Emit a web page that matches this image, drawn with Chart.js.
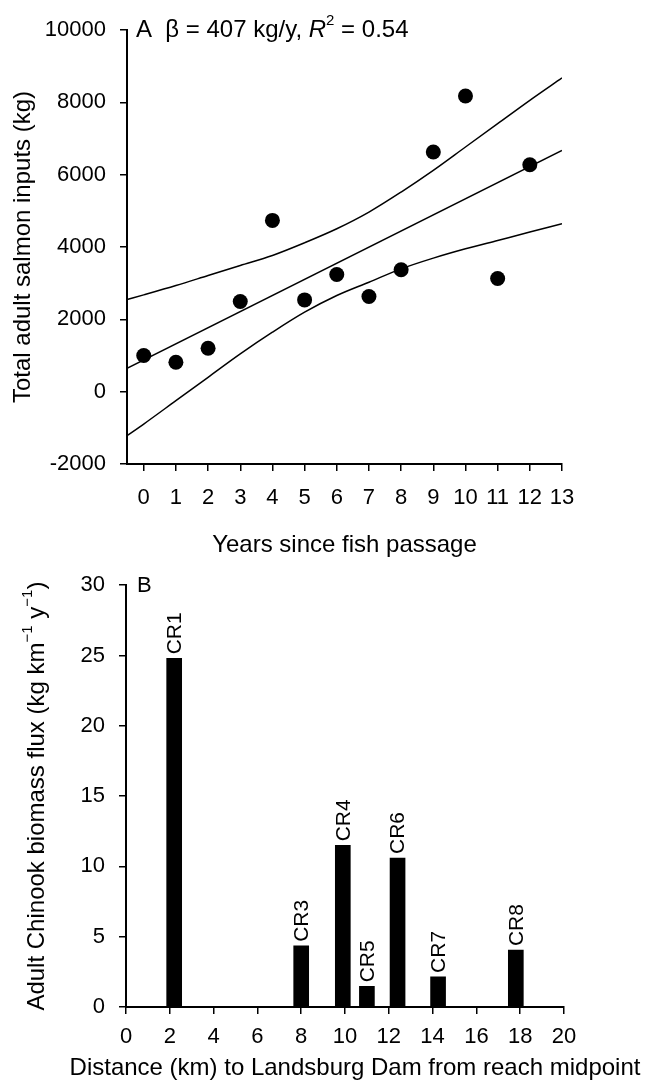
<!DOCTYPE html>
<html>
<head>
<meta charset="utf-8">
<script src="https://cdn.jsdelivr.net/npm/chart.js@4.4.0/dist/chart.umd.min.js"></script>
<style>
  html, body { margin: 0; padding: 0; background: #fff; }
  #wrap { position: relative; width: 653px; height: 1084px; }
  canvas { position: absolute; left: 0; }
  #cA { top: 0; }
  #cB { top: 558px; }
</style>
</head>
<body>
<div id="wrap">
  <canvas id="cA" width="653" height="558"></canvas>
  <canvas id="cB" width="653" height="526"></canvas>
</div>
<script>
// ---------- Panel A data ----------
const years = [0, 1, 2, 3, 4, 5, 6, 7, 8, 9, 10, 11, 12];
const salmonKg = [1000, 812, 1200, 2492, 4735, 2538, 3240, 2630, 3369, 6627, 8177, 3129, 6276];
const fitYears = [-0.52, 13];
const fitKg = [646, 6673];
const bandYears = [-0.52, 0, 1, 2, 3, 4, 5, 6, 7, 8, 9, 10, 11, 12, 13];
const upperKg = [2547, 2677, 2935, 3212, 3489, 3766, 4117, 4504, 4965, 5519, 6119, 6765, 7411, 8057, 8676];
const lowerKg = [-1218, -895, -249, 397, 1043, 1643, 2197, 2658, 3027, 3396, 3692, 3950, 4181, 4412, 4642];
const topXTicks = [0, 1, 2, 3, 4, 5, 6, 7, 8, 9, 10, 11, 12, 13];
const topYTicks = [-2000, 0, 2000, 4000, 6000, 8000, 10000];

// ---------- Panel B data ----------
const reaches = ['CR1', 'CR3', 'CR4', 'CR5', 'CR6', 'CR7', 'CR8'];
const distKm = [2.2, 8.0, 9.9, 11.0, 12.4, 14.25, 17.8];
const fluxKg = [24.8, 4.35, 11.5, 1.47, 10.6, 2.14, 4.05];
const botXTicks = [0, 2, 4, 6, 8, 10, 12, 14, 16, 18, 20];
const botYTicks = [0, 5, 10, 15, 20, 25, 30];

const FONT = "'Liberation Sans', Arial, Helvetica, sans-serif";
const TICK_SIZE = 22;

Chart.defaults.animation = false;
Chart.defaults.responsive = false;
Chart.defaults.devicePixelRatio = 1;
Chart.defaults.font.family = FONT;
Chart.defaults.color = '#000';

function pairs(xs, ys) { return xs.map((x, i) => ({ x: x, y: ys[i] })); }

function tickOpts(pad) {
  return { color: '#000', font: { family: FONT, size: TICK_SIZE }, padding: pad, autoSkip: false,
           maxRotation: 0, minRotation: 0, callback: v => String(v) };
}

function axis(min, max, tickVals, extra) {
  const base = {
    type: 'linear', min: min, max: max,
    offset: false,
    afterBuildTicks: s => { s.ticks = tickVals.map(v => ({ value: v })); },
    grid: { display: true, offset: false, drawOnChartArea: false, drawTicks: true, tickLength: 7, color: '#000', lineWidth: 1.5 },
    border: { display: true, color: '#000', width: 2 },
    ticks: tickOpts(14)
  };
  return Object.assign(base, extra || {});
}

function drawRich(ctx, segs, x, y, rot, size, align) {
  ctx.save();
  ctx.translate(x, y);
  ctx.rotate(rot);
  ctx.fillStyle = '#000';
  ctx.textBaseline = 'middle';
  ctx.textAlign = 'left';
  const fontOf = s => (s.it ? 'italic ' : '') + (s.sup ? Math.round(size * 0.62) : size) + 'px ' + FONT;
  let total = 0;
  segs.forEach(s => { ctx.font = fontOf(s); s.w = ctx.measureText(s.t).width; total += s.w; });
  let cx = align === 'center' ? -total / 2 : 0;
  segs.forEach(s => {
    ctx.font = fontOf(s);
    ctx.fillText(s.t, cx, s.sup ? -size * 0.38 : 0);
    cx += s.w;
  });
  ctx.restore();
}

// ---------- Panel A ----------
const annotA = {
  id: 'annotA',
  afterDraw(chart) {
    const a = chart.chartArea;
    drawRich(chart.ctx, [
      { t: 'A  \u03B2 = 407 kg/y, ' }, { t: 'R', it: true }, { t: '2', sup: true }, { t: ' = 0.54' }
    ], a.left + 9, a.top, 0, 24, 'left');
  }
};

const lineStyle = { showLine: true, pointRadius: 0, borderColor: '#000', borderWidth: 1.5, fill: false, cubicInterpolationMode: 'monotone' };

new Chart(document.getElementById('cA'), {
  type: 'scatter',
  data: {
    datasets: [
      Object.assign({ label: 'upper', data: pairs(bandYears, upperKg) }, lineStyle),
      Object.assign({ label: 'fit', data: pairs(fitYears, fitKg) }, lineStyle),
      Object.assign({ label: 'lower', data: pairs(bandYears, lowerKg) }, lineStyle),
      { label: 'salmon', data: pairs(years, salmonKg), pointRadius: 7.5, pointHoverRadius: 7.5,
        backgroundColor: '#000', borderColor: '#000', borderWidth: 0, showLine: false }
    ]
  },
  options: {
    layout: { padding: { top: 30, right: 91, left: 0, bottom: 0 } },
    plugins: { legend: { display: false }, tooltip: { enabled: false } },
    scales: {
      x: axis(-0.52, 13, topXTicks, {
        afterFit: s => { s.height = 94; },
        ticks: tickOpts(14),
        title: { display: true, text: 'Years since fish passage', color: '#000', font: { family: FONT, size: 24 }, padding: { top: 0, bottom: -2 } }
      }),
      y: axis(-2000, 10000, topYTicks, {
        afterFit: s => { s.width = 127; },
        ticks: tickOpts(14),
        title: { display: true, text: 'Total adult salmon inputs (kg)', color: '#000', font: { family: FONT, size: 24 }, padding: { top: 9, bottom: 0 } }
      })
    }
  },
  plugins: [annotA]
});

// ---------- Panel B ----------
const annotB = {
  id: 'annotB',
  afterDraw(chart) {
    const a = chart.chartArea;
    const ctx = chart.ctx;
    drawRich(ctx, [{ t: 'B' }], a.left + 11, a.top + 1, 0, 22, 'left');
    // y-axis title with superscripts
    drawRich(ctx, [
      { t: 'Adult Chinook biomass flux (kg km' }, { t: '\u22121', sup: true },
      { t: ' y' }, { t: '\u22121', sup: true }, { t: ')' }
    ], 37, (a.top + a.bottom) / 2, -Math.PI / 2, 24, 'center');
    // x-axis title
    drawRich(ctx, [{ t: 'Distance (km) to Landsburg Dam from reach midpoint' }],
      (a.left + a.right) / 2 + 10, chart.height - 16, 0, 24, 'center');
    // bar labels
    const meta = chart.getDatasetMeta(0);
    ctx.save();
    ctx.fillStyle = '#000';
    ctx.font = '21px ' + FONT;
    meta.data.forEach((el, i) => {
      ctx.save();
      ctx.translate(el.x, el.y - 4);
      ctx.rotate(-Math.PI / 2);
      ctx.textAlign = 'left';
      ctx.textBaseline = 'middle';
      ctx.fillText(reaches[i], 0, 1);
      ctx.restore();
    });
    ctx.restore();
  }
};

new Chart(document.getElementById('cB'), {
  type: 'bar',
  data: {
    datasets: [{
      label: 'flux',
      data: pairs(distKm, fluxKg),
      backgroundColor: '#000',
      borderWidth: 0,
      barThickness: 15
    }]
  },
  options: {
    layout: { padding: { top: 15, right: 89, left: 0, bottom: 0 } },
    plugins: { legend: { display: false }, tooltip: { enabled: false } },
    scales: {
      x: axis(0, 20, botXTicks, {
        afterFit: s => { s.height = 77; },
        ticks: tickOpts(10)
      }),
      y: axis(0, 30, botYTicks, {
        beginAtZero: true,
        afterFit: s => { s.width = 126; },
        ticks: tickOpts(14)
      })
    }
  },
  plugins: [annotB]
});
</script>
</body>
</html>
